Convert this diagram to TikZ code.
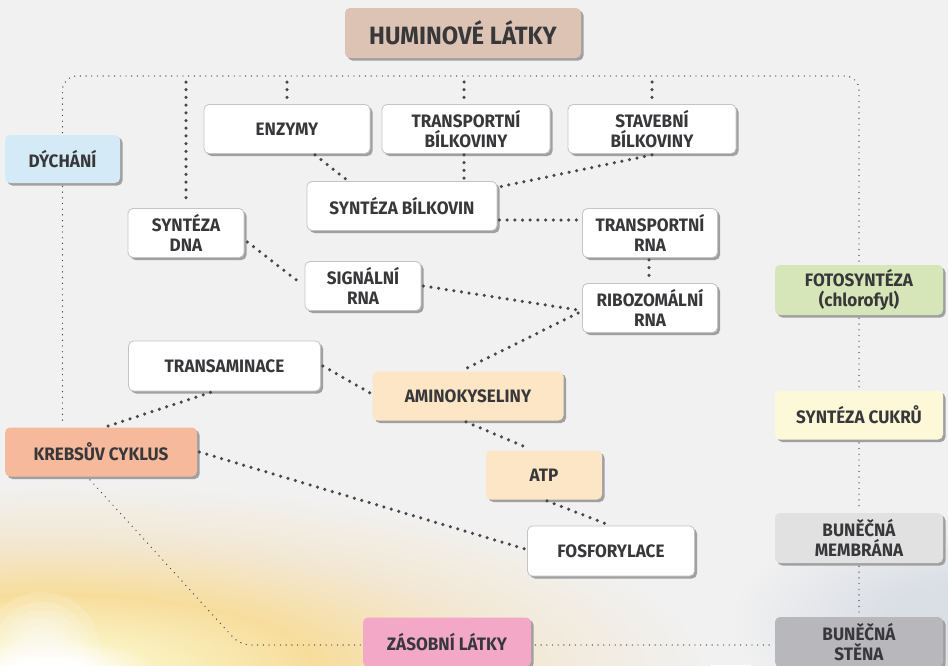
\documentclass[tikz,border=0pt]{standalone}
\usepackage{fontspec}
\setmainfont{Fira Sans}[FakeStretch=0.95]
\usetikzlibrary{shadows,calc}
\definecolor{bg}{HTML}{F1F1F1}
\definecolor{txt}{HTML}{38383B}
\definecolor{dotc}{HTML}{46474E}
\definecolor{boxline}{HTML}{C4C4C4}
\definecolor{shadowc}{HTML}{A0A0A0}
\definecolor{cHum}{HTML}{DCC3B3}
\definecolor{cDych}{HTML}{D5EAF7}
\definecolor{cKrebs}{HTML}{F7B99B}
\definecolor{cAmino}{HTML}{FDE6C6}
\definecolor{cFoto}{HTML}{D7E6B9}
\definecolor{cCukr}{HTML}{FDF8D8}
\definecolor{cMemb}{HTML}{E1E1E2}
\definecolor{cStena}{HTML}{B8B8BC}
\definecolor{cZas}{HTML}{F3A8C8}
\definecolor{sunA}{HTML}{FAF1C0}
\definecolor{sunB}{HTML}{F7DD9C}
\definecolor{sunC}{HTML}{F3E7D2}
\definecolor{cloudA}{HTML}{DADEE5}
\pgfdeclareradialshading{sunglow}{\pgfpoint{0bp}{0bp}}{%
  color(0bp)=(white); color(1.2bp)=(white); color(4bp)=(sunA);
  color(10bp)=(sunB); color(17bp)=(sunC); color(25bp)=(bg); color(50bp)=(bg)}
\pgfdeclareradialshading{cloudglow}{\pgfpoint{0bp}{0bp}}{%
  color(0bp)=(cloudA); color(8bp)=(cloudA); color(25bp)=(bg); color(50bp)=(bg)}
\begin{document}
\begin{tikzpicture}[x=1pt,y=-1pt,
  box/.style={rectangle, rounded corners=5pt, draw=boxline, line width=0.8pt, fill=white,
    text=txt, font=\bfseries\fontsize{18}{19.5}\selectfont, align=center, inner sep=0pt,
    drop shadow={shadow xshift=2.5pt, shadow yshift=-2.5pt, fill=shadowc, opacity=1}},
  cbox/.style={box, draw=none, fill=#1},
  conn/.style={draw=dotc, line width=3.5pt, line cap=round, dash pattern=on 0pt off 7.7pt},
  thindot/.style={draw=dotc, line width=1.4pt, line cap=round, dash pattern=on 0pt off 5.7pt}]
\useasboundingbox (0,0) rectangle (948,665);
\fill[bg] (0,0) rectangle (948,665);
\begin{scope}
\clip (0,0) rectangle (948,665);
\shade[shading=cloudglow] (960,620) ellipse [x radius=230pt, y radius=110pt];
\shade[shading=sunglow] (50,668) ellipse [x radius=660pt, y radius=185pt];
\foreach \r in {18,25,32,40,48,58}
  \fill[white, opacity=0.16] (42,650) circle [radius=\r pt];
\end{scope}

% nodes
\node[cbox=cHum, minimum width=236pt, minimum height=50pt, font=\bfseries\fontsize{25}{28}\selectfont] (hum) at (463,33) {HUMINOVÉ LÁTKY};
\node[cbox=cDych, minimum width=115pt, minimum height=48pt] (dych) at (62.5,159) {DÝCHÁNÍ};
\node[box, minimum width=166pt, minimum height=49pt] (enz) at (287,129) {ENZYMY};
\node[box, minimum width=168pt, minimum height=49pt] (tb) at (466,129) {TRANSPORTNÍ\\BÍLKOVINY};
\node[box, minimum width=168pt, minimum height=49pt] (stav) at (652,129) {STAVEBNÍ\\BÍLKOVINY};
\node[box, minimum width=190pt, minimum height=49pt] (sb) at (402,206) {SYNTÉZA BÍLKOVIN};
\node[box, minimum width=116pt, minimum height=49pt] (dna) at (186,233) {SYNTÉZA\\DNA};
\node[box, minimum width=116pt, minimum height=49pt] (sig) at (363,286) {SIGNÁLNÍ\\RNA};
\node[box, minimum width=135pt, minimum height=49pt] (trna) at (650,233) {TRANSPORTNÍ\\RNA};
\node[box, minimum width=135pt, minimum height=49pt] (rrna) at (650,308) {RIBOZOMÁLNÍ\\RNA};
\node[box, minimum width=192pt, minimum height=50pt] (trans) at (224.5,366) {TRANSAMINACE};
\node[cbox=cAmino, minimum width=191pt, minimum height=49pt] (amino) at (468,396) {AMINOKYSELINY};
\node[cbox=cKrebs, minimum width=192pt, minimum height=49pt] (krebs) at (101,452) {KREBSŮV CYKLUS};
\node[cbox=cAmino, minimum width=116pt, minimum height=49pt] (atp) at (544,475) {ATP};
\node[box, minimum width=167pt, minimum height=50pt] (fosf) at (611,551) {FOSFORYLACE};
\node[cbox=cFoto, minimum width=168pt, minimum height=50pt] (foto) at (859,290) {FOTOSYNTÉZA\\(chlorofyl)};
\node[cbox=cCukr, minimum width=168pt, minimum height=49pt] (cukr) at (859,415) {SYNTÉZA CUKRŮ};
\node[cbox=cMemb, minimum width=168pt, minimum height=50pt] (memb) at (859,538) {BUNĚČNÁ\\MEMBRÁNA};
\node[cbox=cStena, minimum width=168pt, minimum height=50pt] (stena) at (859,642) {BUNĚČNÁ\\STĚNA};
\node[cbox=cZas, minimum width=168pt, minimum height=49pt] (zas) at (447,642) {ZÁSOBNÍ LÁTKY};

% frame and thin dotted connectors
\coordinate (ftop) at (0,76);
\coordinate (fdrop) at (0,82);
\coordinate (zasy) at (0,645);
\draw[thindot, rounded corners=14pt] ([yshift=2pt]dych.north) -- (dych.north |- ftop) -- (foto.north |- ftop) -- ([yshift=2pt]foto.north);
\draw[thindot] ([yshift=-3pt]dych.south) -- ([yshift=2pt]krebs.north -| dych.south);
\draw[thindot] ([yshift=-3pt]foto.south) -- ([yshift=2pt]cukr.north);
\draw[thindot] ([yshift=-3pt]cukr.south) -- ([yshift=2pt]memb.north);
\draw[thindot] ([yshift=-3pt]memb.south) -- ([yshift=2pt]stena.north);
\coordinate (bend) at (240,645);
\draw[thindot, rounded corners=10pt] ([xshift=-11pt,yshift=-3pt]krebs.south) -- (bend) -- ([xshift=-2pt]zas.west |- zasy);
\draw[thindot] ([xshift=4pt]zas.east |- zasy) -- ([xshift=-3pt]stena.west |- zasy);

% thick dotted connectors
\draw[conn] (dna.north |- fdrop) -- ([yshift=3pt]dna.north);
\draw[conn] (enz.north |- fdrop) -- ([yshift=6pt]enz.north);
\draw[conn] ([xshift=-2pt]tb.north |- fdrop) -- ([xshift=-2pt,yshift=6pt]tb.north);
\draw[conn] (stav.north |- fdrop) -- ([yshift=6pt]stav.north);
\draw[conn] ([xshift=28pt,yshift=-1pt]enz.south) -- ([xshift=-55pt,yshift=1pt]sb.north);
\draw[conn] ([xshift=-2pt,yshift=-1pt]tb.south) -- ([xshift=-2pt,yshift=1pt]tb.south |- sb.north);
\draw[conn] ([yshift=-1pt]stav.south) -- ([xshift=1pt,yshift=-6pt]sb.north east);
\draw[conn] ([xshift=2pt,yshift=-14pt]sb.east) -- ([xshift=-2pt,yshift=-14pt]sb.east -| trna.west);
\draw[conn] ([xshift=-1pt,yshift=-2pt]trna.south) -- ([xshift=-1pt,yshift=2pt]rrna.north);
\draw[conn] ([xshift=3pt,yshift=-9pt]dna.east) -- ([xshift=-3pt,yshift=2pt]sig.west);
\draw[conn] ([xshift=2pt]sig.east) -- ([xshift=-4pt,yshift=-2pt]rrna.west);
\draw[conn] ([xshift=-4pt,yshift=-5pt]rrna.west) -- ([xshift=-3pt,yshift=2pt]amino.north);
\draw[conn] ([xshift=2pt]trans.east) -- ([xshift=-2pt,yshift=3pt]amino.west);
\draw[conn] ([xshift=-14pt,yshift=-1pt]trans.south) -- ([xshift=7pt,yshift=1pt]krebs.north);
\draw[conn] ([xshift=-2pt,yshift=-1pt]amino.south) -- ([xshift=-16pt,yshift=2pt]atp.north);
\draw[conn] ([xshift=3pt,yshift=-1pt]atp.south) -- ([xshift=-3pt,yshift=1pt]fosf.north);
\draw[conn] ([xshift=2pt]krebs.east) -- ([xshift=-2pt,yshift=2pt]fosf.west);
\end{tikzpicture}
\end{document}
